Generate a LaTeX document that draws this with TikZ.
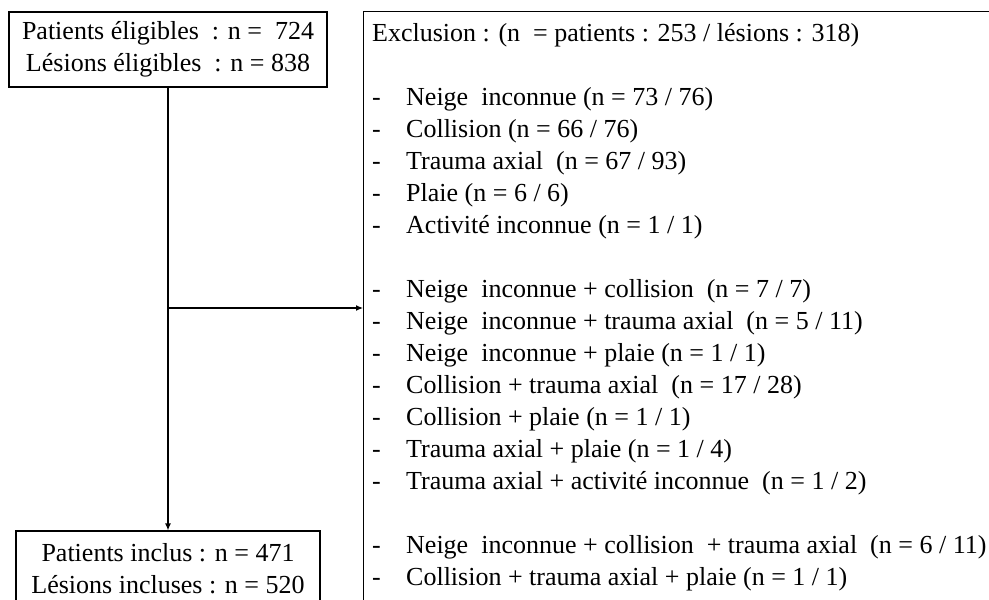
\documentclass[tikz,border=0pt]{standalone}
\usepackage{fontspec}
\setmainfont{Liberation Serif}
\usetikzlibrary{arrows.meta}
\newcommand{\dashitem}[1]{\makebox[34pt][l]{-}#1}

\begin{document}
\begin{tikzpicture}[x=1pt,y=-1pt,
font=\fontsize{26}{32}\selectfont,
box/.style={draw, line width=1.2pt, inner sep=0pt, align=center},
arrow/.style={line width=1.2pt, -{Latex[length=7pt,width=6pt]}}]
\useasboundingbox (0,0) rectangle (989,600);
\clip (0,0) rectangle (989,600);
\node[box, minimum width=318pt, minimum height=75pt] (eligible) at (168,49.5)
{Patients éligibles~ : n =~ 724\\Lésions éligibles~ : n = 838};
\node[box, minimum width=304pt, minimum height=76pt] (included) at (168,569)
{Patients inclus~: n = 471\\Lésions incluses~: n = 520};
\node[box, anchor=north west, minimum width=700pt, minimum height=640pt] (exclusion) at (363,11) {};
\node[anchor=north west, align=left, inner sep=0pt] (excllist) at ([xshift=9pt,yshift=-12pt]exclusion.north west)
{Exclusion : (n~ = patients : 253 / lésions : 318)\\[32pt]
\dashitem{Neige~ inconnue (n = 73 / 76)}\\
\dashitem{Collision (n = 66 / 76)}\\
\dashitem{Trauma axial~ (n = 67 / 93)}\\
\dashitem{Plaie (n = 6 / 6)}\\
\dashitem{Activité inconnue (n = 1 / 1)}\\[32pt]
\dashitem{Neige~ inconnue + collision~ (n = 7 / 7)}\\
\dashitem{Neige~ inconnue + trauma axial~ (n = 5 / 11)}\\
\dashitem{Neige~ inconnue + plaie (n = 1 / 1)}\\
\dashitem{Collision + trauma axial~ (n = 17 / 28)}\\
\dashitem{Collision + plaie (n = 1 / 1)}\\
\dashitem{Trauma axial + plaie (n = 1 / 4)}\\
\dashitem{Trauma axial + activité inconnue~ (n = 1 / 2)}\\[32pt]
\dashitem{Neige~ inconnue + collision~ + trauma axial~ (n = 6 / 11)}\\
\dashitem{Collision + trauma axial + plaie (n = 1 / 1)}};
\draw[arrow] (eligible) -- (included);
\coordinate (branch) at (168,308);
\draw[arrow] (branch) -- (branch -| exclusion.west);
\end{tikzpicture}
\end{document}
